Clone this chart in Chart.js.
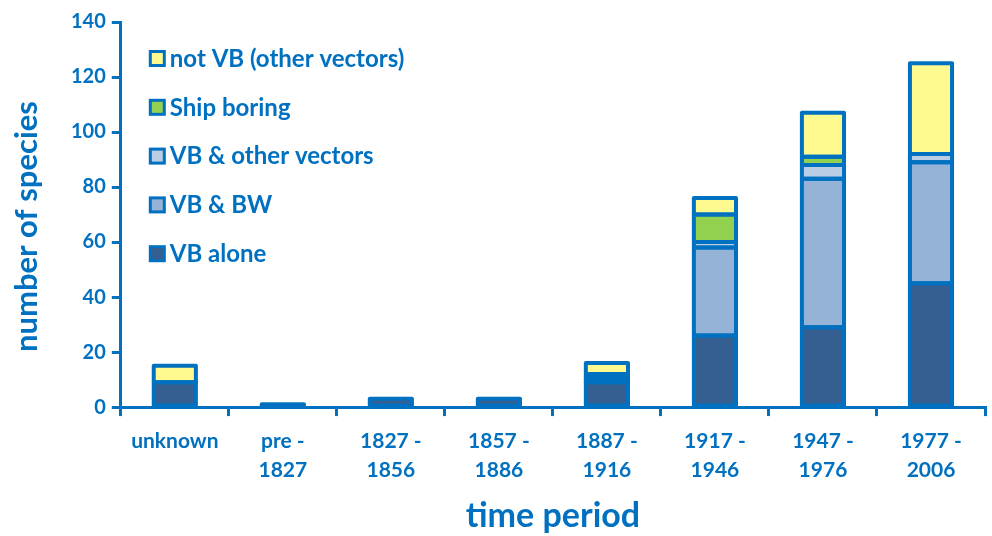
<!DOCTYPE html>
<html>
<head>
<meta charset="utf-8">
<script src="https://cdn.jsdelivr.net/npm/chart.js@4"></script>
<style>
    html, body { margin: 0; padding: 0; background: #ffffff; }
    #wrap { width: 992px; height: 536px; }
</style>
</head>
<body>
<div id="wrap"><canvas id="speciesChart"></canvas></div>
<script>
const periods = [['unknown'], ['pre -', '1827'], ['1827 -', '1856'], ['1857 -', '1886'],
    ['1887 -', '1916'], ['1917 -', '1946'], ['1947 -', '1976'], ['1977 -', '2006']];
const vbAlone = [9, 1, 3, 3, 9, 26, 29, 45];
const vbBW = [0, 0, 0, 0, 1, 32, 54, 44];
const vbOther = [0, 0, 0, 0, 1, 2, 5, 3];
const shipBoring = [0, 0, 0, 0, 1, 10, 3, 0];
const notVB = [6, 0, 0, 0, 4, 6, 16, 33];
const yTicks = [0, 20, 40, 60, 80, 100, 120, 140];
const yTitle = 'number of species';

const blue = '#0070C0';
const font = 'Lato, "Open Sans", sans-serif';

function series(label, data, color) {
    return {
        label: label,
        data: data.map(v => v === 0 ? null : v),
        backgroundColor: color,
        borderWidth: 0,
        barPercentage: 0.39,
        categoryPercentage: 1.0
    };
}

// excel-like outline: stroke centred on each segment's edge
const segmentOutline = {
    id: 'segmentOutline',
    afterDatasetsDraw(chart) {
        const ctx = chart.ctx;
        ctx.save();
        ctx.strokeStyle = blue;
        ctx.lineWidth = 4;
        ctx.lineJoin = 'round';
        chart.data.datasets.forEach((ds, i) => {
            const meta = chart.getDatasetMeta(i);
            meta.data.forEach((el, j) => {
                if (ds.data[j] == null) return;
                const p = el.getProps(['x', 'y', 'base', 'width'], true);
                ctx.strokeRect(p.x - p.width / 2, Math.min(p.y, p.base), p.width, Math.abs(p.base - p.y));
            });
        });
        ctx.restore();
    }
};

// legend inside the plot area (reverse order) + y axis title
const insideLegend = {
    id: 'insideLegend',
    afterDraw(chart) {
        const ctx = chart.ctx;
        const area = chart.chartArea;
        const sets = chart.data.datasets.slice().reverse();
        ctx.save();
        ctx.font = 'bold 24px ' + font;
        ctx.textBaseline = 'middle';
        sets.forEach((ds, i) => {
            const y = area.top + 36 + i * 48.8;
            const x = area.left + 28;
            ctx.fillStyle = blue;
            ctx.fillRect(x, y - 8, 17, 17);
            ctx.fillStyle = ds.backgroundColor;
            ctx.fillRect(x + 3, y - 5, 11, 11);
            ctx.fillStyle = blue;
            ctx.fillText(ds.label, x + 21, y + 1);
        });

        ctx.translate(27, (area.top + area.bottom) / 2 + 12);
        ctx.rotate(-Math.PI / 2);
        ctx.font = 'bold 31px ' + font;
        ctx.textAlign = 'center';
        ctx.fillText(yTitle, 0, 0);
        ctx.restore();
    }
};

new Chart(document.getElementById('speciesChart'), {
    type: 'bar',
    data: {
        labels: periods,
        datasets: [
            series('VB alone', vbAlone, '#365F91'),
            series('VB & BW', vbBW, '#95B3D7'),
            series('VB & other vectors', vbOther, '#B9CDE5'),
            series('Ship boring', shipBoring, '#92D050'),
            series('not VB (other vectors)', notVB, '#FFFA90')
        ]
    },
    options: {
        responsive: true,
        maintainAspectRatio: false,
        animation: false,
        layout: { padding: { top: 22, right: 7, left: 65, bottom: 0 } },
        plugins: {
            legend: { display: false },
            tooltip: { enabled: false }
        },
        scales: {
            x: {
                stacked: true,
                grid: {
                    offset: true,
                    drawOnChartArea: false,
                    color: blue,
                    lineWidth: 3,
                    tickLength: 9
                },
                border: { color: blue, width: 3 },
                ticks: {
                    color: blue,
                    font: { family: font, size: 21, weight: 'bold', lineHeight: 1.36 },
                    maxRotation: 0,
                    padding: 11
                },
                title: {
                    display: true,
                    text: 'time period',
                    color: blue,
                    font: { family: font, size: 34, weight: 'bold' },
                    padding: { top: 0, bottom: 0 }
                }
            },
            y: {
                stacked: true,
                min: 0,
                max: 140,
                afterBuildTicks(axis) {
                    axis.ticks = yTicks.map(v => ({ value: v }));
                },
                grid: {
                    drawOnChartArea: false,
                    color: blue,
                    lineWidth: 3,
                    tickLength: 9
                },
                border: { color: blue, width: 3 },
                ticks: {
                    color: blue,
                    font: { family: font, size: 20, weight: 'bold' },
                    padding: 6
                }
            }
        }
    },
    plugins: [segmentOutline, insideLegend]
});
</script>
</body>
</html>
